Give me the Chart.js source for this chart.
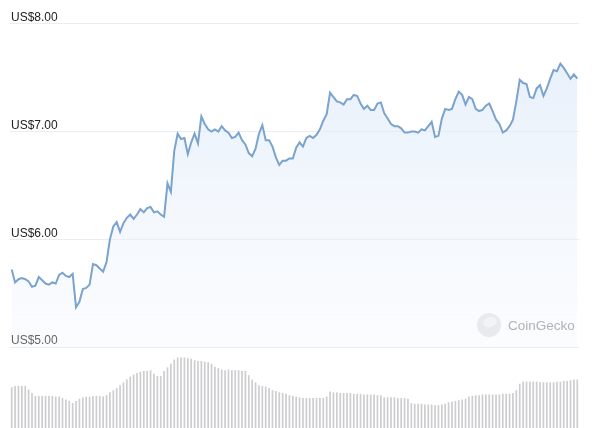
<!DOCTYPE html>
<html>
<head>
<meta charset="utf-8">
<script src="https://cdn.jsdelivr.net/npm/chart.js@4.4.1/dist/chart.umd.min.js"></script>
<style>
  html, body { margin: 0; padding: 0; background: #fff; }
  #wrap { width: 600px; height: 428px; }
</style>
</head>
<body>
<div id="wrap"><canvas id="chart" width="600" height="428"></canvas></div>
<script>
// hourly price (US$) over the period
const prices = [
    5.72, 5.60, 5.63, 5.64, 5.63, 5.61, 5.56, 5.57, 5.65, 5.62,
    5.59, 5.58, 5.60, 5.59, 5.67, 5.69, 5.66, 5.65, 5.68, 5.37,
    5.42, 5.54, 5.55, 5.58, 5.77, 5.76, 5.73, 5.70, 5.79, 6.00,
    6.12, 6.16, 6.07, 6.15, 6.20, 6.23, 6.19, 6.23, 6.28, 6.25,
    6.29, 6.30, 6.25, 6.26, 6.23, 6.21, 6.52, 6.44, 6.82, 6.98,
    6.93, 6.94, 6.79, 6.90, 6.98, 6.89, 7.14, 7.07, 7.02, 7.00,
    7.02, 7.00, 7.05, 7.01, 6.99, 6.94, 6.95, 6.99, 6.92, 6.88,
    6.80, 6.77, 6.84, 6.98, 7.06, 6.92, 6.92, 6.86, 6.76, 6.69,
    6.73, 6.73, 6.75, 6.75, 6.85, 6.90, 6.86, 6.94, 6.96, 6.94,
    6.97, 7.02, 7.10, 7.16, 7.36, 7.32, 7.28, 7.27, 7.25, 7.30,
    7.30, 7.34, 7.33, 7.26, 7.21, 7.24, 7.20, 7.20, 7.26, 7.27,
    7.17, 7.12, 7.07, 7.05, 7.05, 7.03, 6.99, 6.99, 7.00, 7.00,
    6.99, 7.02, 7.01, 7.05, 7.09, 6.95, 6.96, 7.12, 7.21, 7.20,
    7.21, 7.30, 7.37, 7.34, 7.25, 7.32, 7.30, 7.21, 7.19, 7.20,
    7.24, 7.26, 7.19, 7.11, 7.07, 6.99, 7.01, 7.05, 7.11, 7.28,
    7.48, 7.45, 7.44, 7.32, 7.31, 7.40, 7.43, 7.33, 7.40, 7.49,
    7.57, 7.56, 7.63, 7.59, 7.54, 7.49, 7.53, 7.49
];

// hourly trading volume (US$ millions, rough)
const volumes = [
    5.7, 5.9, 5.9, 5.9, 5.9, 5.4, 4.9, 4.5, 4.5, 4.5,
    4.5, 4.5, 4.5, 4.4, 4.4, 4.2, 4.0, 3.8, 3.5, 3.8,
    4.1, 4.3, 4.4, 4.4, 4.5, 4.5, 4.5, 4.4, 4.6, 5.0,
    5.3, 5.6, 6.0, 6.4, 6.8, 7.2, 7.5, 7.7, 7.9, 8.0,
    8.0, 8.1, 7.6, 7.3, 7.3, 8.0, 8.5, 9.0, 9.6, 9.9,
    9.9, 9.9, 9.8, 9.7, 9.5, 9.4, 9.4, 9.3, 9.2, 9.0,
    8.6, 8.4, 8.2, 8.1, 8.2, 8.1, 8.1, 8.1, 8.0, 8.0,
    7.4, 6.8, 6.4, 6.0, 5.9, 5.8, 5.6, 5.3, 5.2, 5.0,
    4.9, 4.8, 4.6, 4.5, 4.4, 4.3, 4.2, 4.2, 4.2, 4.2,
    4.2, 4.2, 4.2, 4.4, 5.1, 5.0, 5.0, 4.9, 4.9, 4.9,
    4.9, 4.8, 4.8, 4.8, 4.7, 4.7, 4.7, 4.7, 4.6, 4.6,
    4.3, 4.3, 4.3, 4.3, 4.2, 4.2, 4.2, 4.1, 3.5, 3.4,
    3.4, 3.4, 3.3, 3.3, 3.3, 3.2, 3.2, 3.3, 3.4, 3.6,
    3.7, 3.8, 3.9, 4.0, 4.1, 4.4, 4.5, 4.6, 4.6, 4.7,
    4.7, 4.7, 4.7, 4.7, 4.7, 4.8, 4.8, 4.8, 4.9, 5.3,
    6.2, 6.5, 6.5, 6.5, 6.5, 6.5, 6.4, 6.4, 6.4, 6.4,
    6.4, 6.5, 6.5, 6.6, 6.6, 6.7, 6.8, 6.8
];

const hours = prices.map((_, i) => i);
const priceTicks = [5, 6, 7, 8];

const watermark = {
    id: 'watermark',
    beforeDatasetsDraw(chart) {
        const c = chart.ctx;
        c.save();
        c.fillStyle = '#e4e5e7';
        c.beginPath();
        c.arc(489, 325, 12, 0, Math.PI * 2);
        c.fill();
        c.fillStyle = '#f3f3f4';
        c.beginPath();
        c.ellipse(490, 322, 7, 5, -0.3, 0, Math.PI * 2);
        c.fill();
        c.fillStyle = '#8f9194';
        c.font = '13.5px "Liberation Sans", Arial, sans-serif';
        c.textBaseline = 'middle';
        c.textAlign = 'left';
        c.fillText('CoinGecko', 508, 326);
        c.restore();
    }
};

const ctx = document.getElementById('chart').getContext('2d');
new Chart(ctx, {
    data: {
        labels: hours,
        datasets: [
            {
                type: 'line',
                data: prices,
                yAxisID: 'price',
                borderColor: '#7aa3cd',
                borderWidth: 2,
                pointRadius: 0,
                tension: 0,
                order: 0,
                fill: { value: 5 },
                backgroundColor: (context) => {
                    const area = context.chart.chartArea;
                    if (!area) return 'rgba(236,242,251,0.6)';
                    const g = context.chart.ctx.createLinearGradient(0, 60, 0, 347);
                    g.addColorStop(0, 'rgba(222,234,249,0.7)');
                    g.addColorStop(1, 'rgba(240,245,252,0.3)');
                    return g;
                }
            },
            {
                type: 'bar',
                data: volumes,
                yAxisID: 'volume',
                backgroundColor: '#cdcdd0',
                barPercentage: 0.5,
                categoryPercentage: 1,
                order: 1
            }
        ]
    },
    options: {
        responsive: false,
        animation: false,
        devicePixelRatio: 1,
        layout: { padding: { left: 8, right: 21, top: 0, bottom: 0 } },
        plugins: { legend: { display: false }, tooltip: { enabled: false } },
        scales: {
            x: { display: false },
            price: {
                position: 'left',
                z: 1,
                min: 4.25,
                max: 8.22,
                afterBuildTicks: (scale) => { scale.ticks = priceTicks.map(v => ({ value: v })); },
                afterFit: (scale) => { scale.paddingTop = 0; scale.paddingBottom = 0; },
                grid: { color: 'rgba(225,229,235,0.7)', lineWidth: 1, drawTicks: false },
                border: { display: false },
                ticks: {
                    mirror: true,
                    padding: 1,
                    labelOffset: -6,
                    color: '#222',
                    font: { family: '"Liberation Sans", Arial, sans-serif', size: 12 },
                    callback: (v) => 'US$' + Number(v).toFixed(2)
                }
            },
            volume: {
                position: 'right',
                display: false,
                min: 0,
                max: 60
            }
        }
    },
    plugins: [watermark]
});
</script>
</body>
</html>
